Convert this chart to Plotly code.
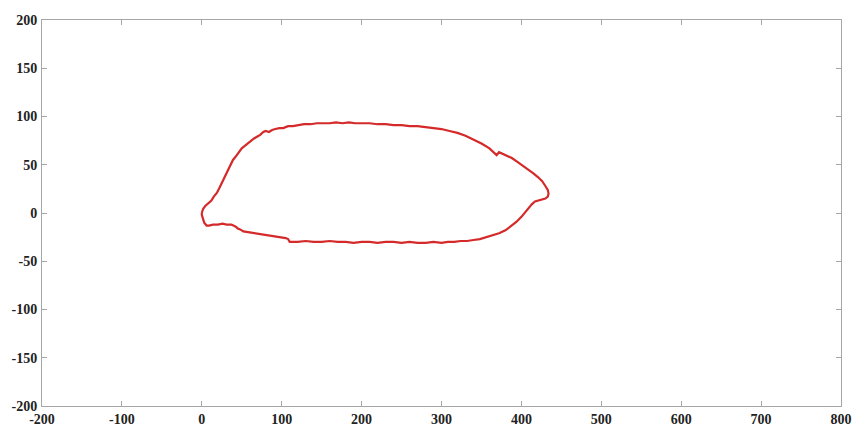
import plotly.graph_objects as go

# Outline coordinates (data units), traced clockwise from the left tip.
# Upper edge: left tip -> right nose
upper_x = [0, 1.5, 4, 8, 12, 15, 19, 22, 25, 28,
           31, 33, 36, 39, 42, 46, 50, 53, 57, 61,
           65, 69, 73, 77, 80, 84, 88, 92, 97, 102,
           108, 114, 120, 128, 136, 144, 152, 160, 168, 176,
           184, 192, 200, 210, 220, 230, 240, 250, 260, 270,
           280, 290, 300, 310, 320, 330, 340, 350, 360, 369,
           372, 380, 388, 395, 402, 409, 415, 421, 426, 430,
           433, 434]
upper_y = [0, 4, 7, 10, 13, 17, 21, 26, 31, 36,
           42, 46, 51, 55, 58, 63, 67, 69, 72, 74,
           77, 79, 81, 84, 85, 84, 86, 87, 88, 88,
           90, 90, 91, 92, 92, 93, 93, 93, 94, 93,
           94, 93, 93, 93, 92, 92, 91, 91, 90, 90,
           89, 88, 87, 85, 83, 80, 76, 72, 67, 60,
           63, 60, 57, 53, 49, 45, 41, 37, 33, 28,
           24, 20]
# Lower edge: right nose -> left tip
lower_x = [433, 430, 426, 421, 417, 413, 409, 405, 400, 394,
           387, 380, 372, 364, 356, 348, 340, 332, 324, 316,
           308, 300, 290, 280, 270, 260, 250, 240, 230, 220,
           210, 200, 190, 180, 170, 160, 150, 140, 130, 120,
           110, 108, 105, 98, 90, 82, 74, 66, 58, 52,
           48, 45, 42, 37, 31, 26, 20, 14, 9, 6,
           3, 1, 0, 0]
lower_y = [17, 15, 14, 13, 12, 9, 5, 0, -4, -9,
           -14, -18, -21, -23, -25, -27, -28, -29, -29, -30,
           -30, -31, -30, -31, -31, -30, -31, -30, -30, -31,
           -30, -30, -31, -30, -30, -29, -30, -30, -29, -30,
           -30, -27, -26, -25, -24, -23, -22, -21, -20, -19,
           -17, -16, -14, -12, -12, -11, -12, -12, -13, -13,
           -10, -6, -2, 0]

x_ticks = [-200, -100, 0, 100, 200, 300, 400, 500, 600, 700, 800]
y_ticks = [-200, -150, -100, -50, 0, 50, 100, 150, 200]

x_vals = upper_x + lower_x
y_vals = upper_y + lower_y

fig = go.Figure()
fig.add_trace(go.Scatter(
    x=x_vals, y=y_vals, mode="lines",
    line=dict(color="#d42a2a", width=2.2),
    hoverinfo="skip", showlegend=False,
))

axis_common = dict(
    showgrid=False, zeroline=False, automargin=False,
    showline=True, linecolor="#a6a6a6", linewidth=1,
    mirror="ticks", ticks="inside", ticklen=5, tickcolor="#a6a6a6",
    tickfont=dict(family="Liberation Serif", size=14, color="#222222"),
)

fig.update_layout(
    template="none",
    width=853, height=427,
    margin=dict(l=42, r=12, t=20, b=21),
    paper_bgcolor="white", plot_bgcolor="white",
    font=dict(family="Liberation Serif", size=14, color="#222222"),
    xaxis=dict(range=[-200, 800], tickvals=x_ticks,
               ticktext=[f"<b>{v}</b>" for v in x_ticks], **axis_common),
    yaxis=dict(range=[-200, 200], tickvals=y_ticks,
               ticktext=[f"<b>{v}</b>" for v in y_ticks], ticklabelstandoff=1, **axis_common),
)

fig.write_html(
    "out.html",
    config={"displayModeBar": False},
    post_script="document.body.style.margin='0';document.body.style.overflow='hidden';",
)
